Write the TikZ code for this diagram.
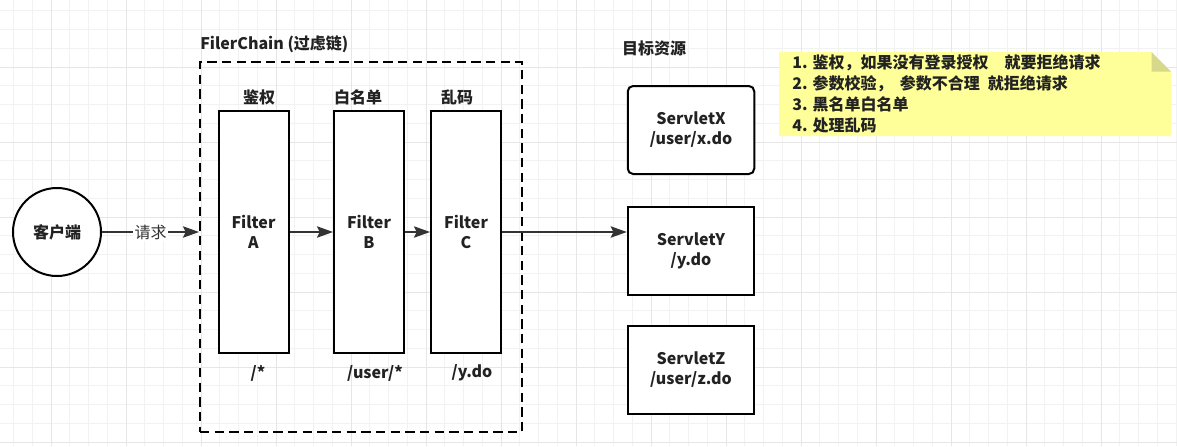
\documentclass[tikz,border=0pt]{standalone}
\usepackage{fontspec}
\setmainfont{Noto Sans CJK SC}
\usetikzlibrary{arrows.meta}
\definecolor{gridminor}{HTML}{F2F2F2}
\definecolor{gridmajor}{HTML}{E6E6E6}
\definecolor{ink}{HTML}{222222}
\definecolor{arrowc}{HTML}{333333}
\definecolor{notefill}{HTML}{FFFF99}
\definecolor{notefold}{HTML}{D8D88A}
\tikzset{
  txt/.style={font=\fontsize{12}{15}\selectfont, text=ink, inner sep=0pt, align=center},
  btxt/.style={txt, font=\fontsize{12}{15}\selectfont\bfseries},
  filterbox/.style={draw=black, line width=1.5pt, fill=white, minimum width=70*0.75pt, minimum height=242*0.75pt, inner sep=0pt, btxt},
  servletbox/.style={draw=black, line width=1.5pt, fill=white, minimum width=126.5*0.75pt, minimum height=88*0.75pt, inner sep=0pt, btxt},
  flow/.style={draw=arrowc, line width=1.3pt, -{Stealth[length=12pt,width=8.5pt,inset=2pt]}},
}
\begin{document}
\begin{tikzpicture}[x=0.75pt,y=-0.75pt]
\useasboundingbox (0,0) rectangle (1177,446);
\fill[white] (0,0) rectangle (1177,446);
% grid
\foreach \k in {0,...,62} {
  \draw[gridminor, line width=0.75pt] ({13.6+18.75*\k},0) -- ({13.6+18.75*\k},446);
}
\foreach \k in {0,...,23} {
  \draw[gridminor, line width=0.75pt] (0,{10.75+18.75*\k}) -- (1177,{10.75+18.75*\k});
}
\foreach \k in {0,...,14} {
  \draw[gridmajor, line width=0.75pt] ({51.1+75*\k},0) -- ({51.1+75*\k},446);
}
\foreach \k in {0,...,5} {
  \draw[gridmajor, line width=0.75pt] (0,{67+75*\k}) -- (1177,{67+75*\k});
}

% client
\node[circle, draw=black, line width=1.5pt, fill=white, minimum size=88*0.75pt, inner sep=0pt, btxt] (client) at (57,232) {客户端};

% filter chain dashed box
\node[draw=black, line width=1.5pt, dash pattern=on 7pt off 4pt, minimum width=322*0.75pt, minimum height=370*0.75pt, inner sep=0pt] (chain) at (361,247) {};
\node[btxt, anchor=west] (chaintitle) at (200,44) {FilerChain (过虑链)};

% filters
\node[filterbox] (fa) at (253.5,232) {Filter\\A};
\node[filterbox] (fb) at (369,232) {Filter\\B};
\node[filterbox] (fc) at (466,232) {Filter\\C};

\node[btxt] (la) at (259,97) {鉴权};
\node[btxt] (lb) at (358,97) {白名单};
\node[btxt] (lc) at (457,97) {乱码};

\node[btxt] (pa) at (258,373) {/*};
\node[btxt] (pb) at (375,373) {/user/*};
\node[btxt] (pc) at (472,373) {/y.do};

% target resources
\node[btxt] (target) at (654,48) {目标资源};
\node[servletbox, rounded corners=4pt] (sx) at (691,130) {ServletX\\/user/x.do};
\node[servletbox] (sy) at (691,251) {ServletY\\/y.do};
\node[servletbox] (sz) at (691,369.5) {ServletZ\\/user/z.do};

% connectors
\draw[flow] (client.east) -- node[txt, fill=white, inner sep=1pt, text=arrowc, font=\fontsize{12}{15}\selectfont] (req) {请求} (client.east -| chain.west);
\draw[flow] (fa.east) -- (fa.east -| fb.west);
\draw[flow] (fb.east) -- (fb.east -| fc.west);
\draw[flow] (fc.east) -- (fc.east -| sy.west);

% note
\coordinate (n1) at (779,52);
\coordinate (n2) at (1151.5,52);
\coordinate (n3) at (1171,71.7);
\coordinate (n4) at (1171,136);
\coordinate (n5) at (779,136);
\fill[notefill] (n1) -- (n2) -- (n3) -- (n4) -- (n5) -- cycle;
\fill[notefold] (n2) -- (n3) -- (1151.5,71.7) -- cycle;
\node[btxt, anchor=west, align=left, font=\fontsize{12}{15.75}\selectfont\bfseries] (notetext) at (792,93.5) {1. 鉴权，如果没有登录授权\quad 就要拒绝请求\\2. 参数校验，\ \ 参数不合理\enspace 就拒绝请求\\3. 黑名单白名单\\4. 处理乱码};
\end{tikzpicture}
\end{document}
